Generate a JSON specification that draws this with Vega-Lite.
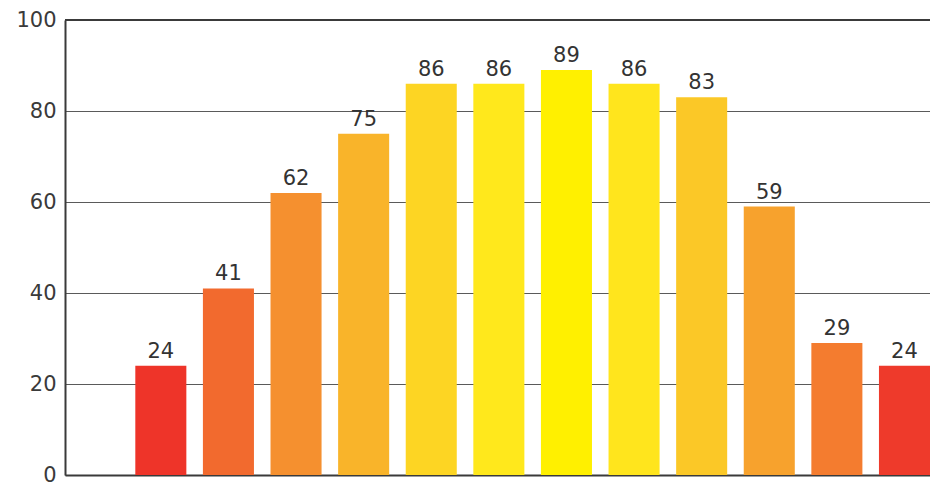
{
  "$schema": "https://vega.github.io/schema/vega-lite/v6.json",
  "autosize": {"type": "none"},
  "padding": {"left": 65, "top": 20, "right": 0, "bottom": 12},
  "width": 865,
  "height": 455,
  "background": "white",
  "config": {"view": {"stroke": null}, "font": "DejaVu Sans"},
  "data": {"values": [
    {"m": "Jan", "v": 24}, {"m": "Feb", "v": 41}, {"m": "Mar", "v": 62},
    {"m": "Apr", "v": 75}, {"m": "May", "v": 86}, {"m": "Jun", "v": 86},
    {"m": "Jul", "v": 89}, {"m": "Aug", "v": 86}, {"m": "Sep", "v": 83},
    {"m": "Oct", "v": 59}, {"m": "Nov", "v": 29}, {"m": "Dec", "v": 24}
  ]},
  "layer": [
    {"mark": {"type": "bar"},
      "encoding": {
        "x": {"field": "m", "type": "nominal", "sort": null,
          "scale": {"paddingInner": 0.245, "paddingOuter": 0.52, "align": 1},
          "axis": {"title": null, "labels": false, "ticks": false, "domain": true, "domainColor": "#3a3a3a", "domainWidth": 2, "grid": false}},
        "y": {"field": "v", "type": "quantitative",
          "scale": {"domain": [0, 100], "nice": false},
          "axis": {"title": null, "values": [0, 20, 40, 60, 80, 100], "ticks": false, "domain": true, "domainColor": "#3a3a3a", "domainWidth": 2,
            "grid": true, "gridColor": "#5a5a5a", "gridWidth": 1,
            "labelFontSize": 21, "labelColor": "#3a3a3a", "labelPadding": 9, "labelFont": "DejaVu Sans"}},
        "color": {"field": "m", "type": "nominal", "sort": null, "legend": null,
          "scale": {"domain": ["Jan","Feb","Mar","Apr","May","Jun","Jul","Aug","Sep","Oct","Nov","Dec"],
            "range": ["#EE3429","#F26A2E","#F5902F","#F9B42A","#FDD523","#FFE81C","#FFF000","#FFE51D","#FBC827","#F7A22D","#F47C2F","#EE3A2B"]}}}},
    {"mark": {"type": "text", "baseline": "bottom", "dy": -4, "fontSize": 21, "color": "#333333", "font": "DejaVu Sans"},
      "encoding": {
        "x": {"field": "m", "type": "nominal", "sort": null},
        "y": {"field": "v", "type": "quantitative"},
        "text": {"field": "v", "type": "quantitative"}}},
    {"mark": {"type": "rule", "color": "#3a3a3a", "strokeWidth": 2},
      "encoding": {"y": {"datum": 100, "type": "quantitative"}}}
  ]
}
